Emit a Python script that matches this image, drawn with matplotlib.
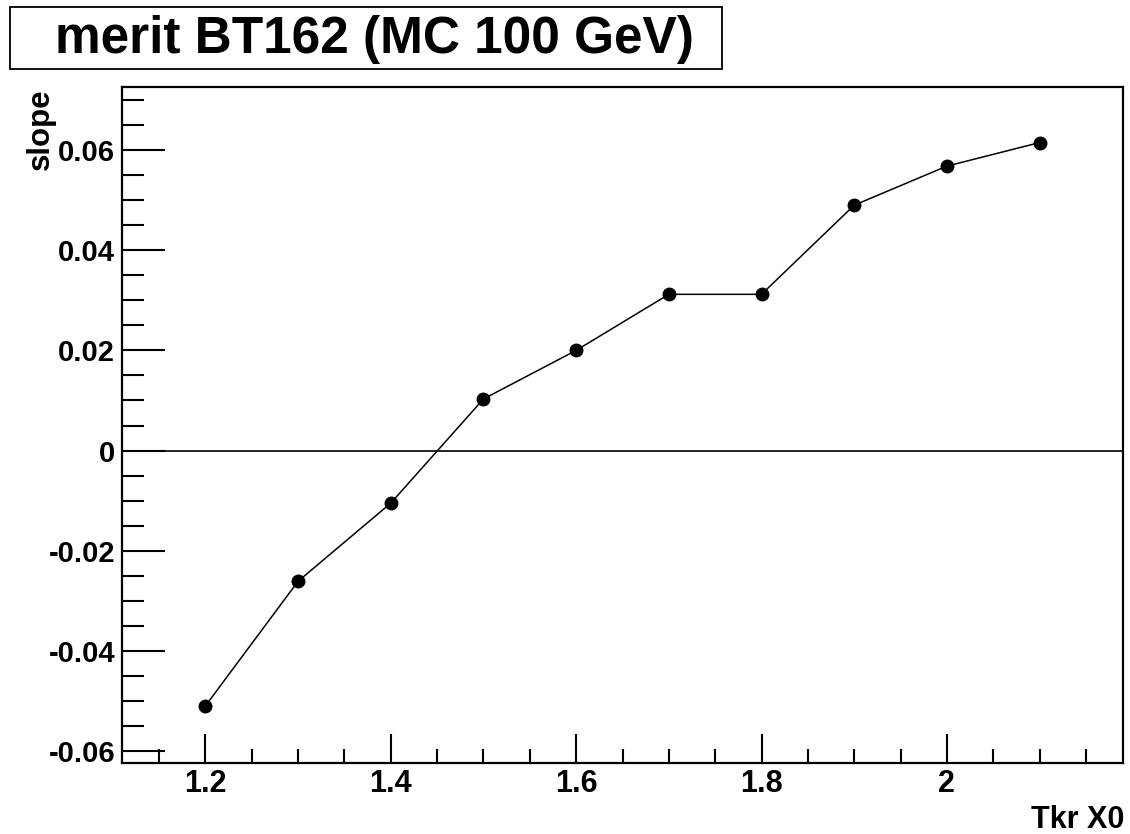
import numpy as np
import matplotlib.pyplot as plt
from matplotlib.ticker import MultipleLocator, FuncFormatter

plt.rcParams['font.family'] = ['Liberation Sans', 'DejaVu Sans']
plt.rcParams['font.weight'] = 'bold'

tkr_x0 = [1.2, 1.3, 1.4, 1.5, 1.6, 1.7, 1.8, 1.9, 2.0, 2.1]
slope = [-0.0510, -0.0261, -0.0105, 0.0103, 0.0200, 0.0312, 0.0312, 0.0490, 0.0568, 0.0615]

fig = plt.figure(figsize=(11.3, 8.34), dpi=100)
ax = fig.add_axes([122/1130, 1 - 763/834, (1123 - 122)/1130, (763 - 87)/834])

ax.plot(tkr_x0, slope, '-', color='k', lw=1.1, zorder=3)
ax.plot(tkr_x0, slope, 'o', color='k', ms=9, zorder=4)
ax.axhline(0, color='k', lw=1.2, zorder=2)

ax.set_xlim(1.11, 2.19)
ax.set_ylim(-0.0624, 0.0726)

ax.xaxis.set_major_locator(MultipleLocator(0.2))
ax.xaxis.set_minor_locator(MultipleLocator(0.05))
ax.yaxis.set_major_locator(MultipleLocator(0.02))
ax.yaxis.set_minor_locator(MultipleLocator(0.005))
fmt = FuncFormatter(lambda v, p: '%g' % round(v, 6))
ax.xaxis.set_major_formatter(fmt)
ax.yaxis.set_major_formatter(fmt)

ax.tick_params(axis='both', which='both', direction='in', width=1.5)
ax.tick_params(axis='x', which='major', length=21, pad=4, top=False, labelsize=22)
ax.tick_params(axis='x', which='minor', length=10, top=False)
ax.tick_params(axis='y', which='major', length=31, pad=5, right=False, labelsize=21)
ax.tick_params(axis='y', which='minor', length=16, right=False)
for lab in ax.get_xticklabels() + ax.get_yticklabels():
    lab.set_fontweight('bold')
for s in ax.spines.values():
    s.set_linewidth(1.6)

fig.text(1124/1130, 1 - 820/834, 'Tkr X0', ha='right', va='center', fontsize=22, fontweight='bold')
fig.text(41/1130, 1 - 88/834, 'slope', ha='center', va='top', rotation=90, fontsize=22.5, fontweight='bold')

# title box
fig.patches.append(plt.Rectangle((10/1130, 1 - 69/834), 712/1130, 62/834, transform=fig.transFigure,
                                 fill=False, edgecolor='k', lw=1.3))
fig.text(374/1130, 1 - 39/834, 'merit BT162 (MC 100 GeV)', ha='center', va='center',
         fontsize=37, fontweight='bold')

plt.savefig('out.png', dpi=100)
